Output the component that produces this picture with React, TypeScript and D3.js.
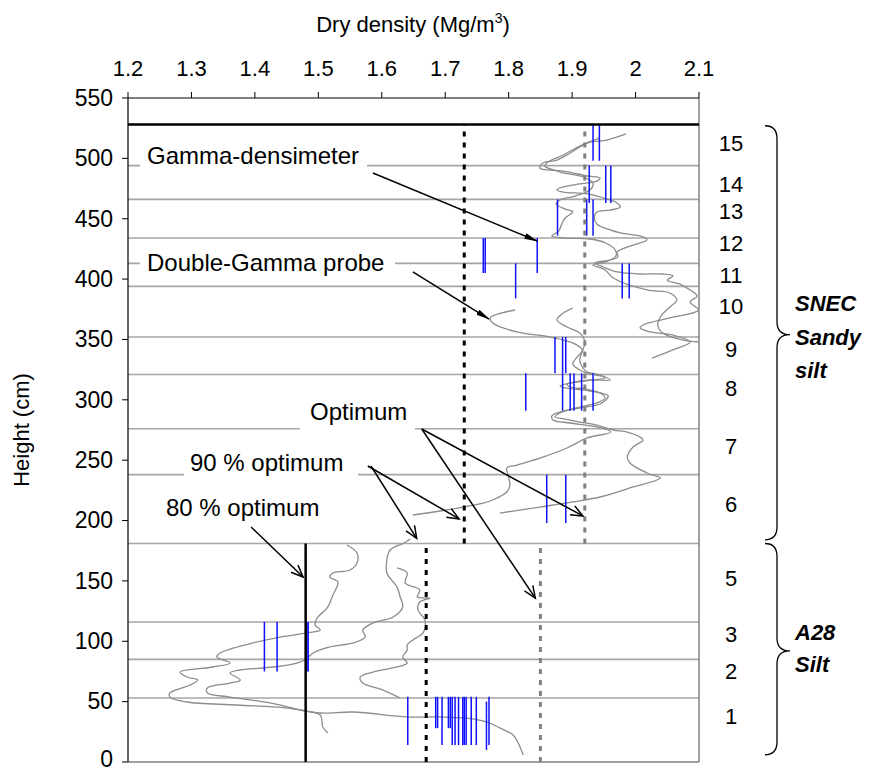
import React from "react";
import * as d3 from "d3";

// ---------- data ----------
const densityTicks = [1.2, 1.3, 1.4, 1.5, 1.6, 1.7, 1.8, 1.9, 2, 2.1];
const heightTicks = [0, 50, 100, 150, 200, 250, 300, 350, 400, 450, 500, 550];
const layerBoundaries = [53, 85, 116, 181, 238, 276, 321, 352, 394, 413, 434, 466, 494];
const surfaceHeight = 528;
const layerNames = ["15", "14", "13", "12", "11", "10", "9", "8", "7", "6", "5", "3", "2", "1"];
const layerNameHeights = [513, 479, 456, 430, 403, 378, 342, 310, 262, 214, 152, 106, 75, 38];

// reference density lines: [density, fromHeight, toHeight]
const optimumA28 = [1.85, 0, 181];
const optimumSNEC = [1.92, 181, 528];
const ninetyA28 = [1.67, 0, 181];
const ninetySNEC = [1.73, 181, 528];
const eightyA28 = [1.48, 0, 181];

// Gamma-densimeter measurements: density, top height, bottom height
const gammaDensity = [
  1.933, 1.943,
  1.927, 1.953, 1.961,
  1.877, 1.923, 1.933,
  1.760, 1.763, 1.845,
  1.811, 1.979, 1.990,
  1.873, 1.885, 1.890,
  1.827, 1.885, 1.897, 1.903, 1.915, 1.933,
  1.860, 1.890,
  1.415, 1.435, 1.482, 1.484,
  1.641, 1.685, 1.688, 1.695, 1.705, 1.708, 1.711, 1.7155, 1.721, 1.7276, 1.730, 1.733, 1.741, 1.749, 1.765, 1.769,
];
const gammaTop = [
  528, 528,
  494, 494, 494,
  466, 466, 466,
  434, 434, 434,
  413, 413, 413,
  352, 352, 352,
  322, 322, 322, 322, 322, 322,
  238, 238,
  116, 116, 116, 116,
  54, 54, 54, 54, 54, 54, 54, 54, 54, 54, 54, 54, 54, 54, 50, 54,
];
const gammaBottom = [
  498, 498,
  463, 463, 463,
  436, 436, 436,
  405, 405, 405,
  384, 384, 384,
  322, 322, 322,
  291, 291, 291, 291, 291, 291,
  198, 198,
  75, 75, 75, 75,
  14, 28, 28, 14, 28, 28, 14, 14, 14, 14, 14, 14, 14, 14, 10, 14,
];

// Double-Gamma probe profiles: [density, height]
const probeSNECLowA: [number, number][] = [
  [1.649, 204.6], [1.692, 207.9], [1.728, 211.2], [1.760, 214.5], [1.775, 217.0], [1.797, 223.6], [1.802, 229.4],
  [1.799, 237.7], [1.797, 243.5], [1.813, 246.0], [1.854, 252.6], [1.892, 260.1], [1.924, 268.4], [1.961, 273.3],
  [1.939, 277.5], [1.897, 280.8], [1.870, 283.3], [1.868, 286.6], [1.881, 289.9], [1.912, 293.2], [1.944, 296.5],
  [1.957, 303.2], [1.928, 307.3], [1.889, 309.8], [1.881, 311.4], [1.897, 313.9], [1.928, 316.4], [1.960, 316.4],
  [1.952, 318.9], [1.928, 321.4], [1.912, 324.7], [1.901, 329.7], [1.908, 335.5], [1.916, 341.3], [1.901, 347.1],
  [1.865, 352.0], [1.813, 356.2], [1.775, 363.6], [1.771, 367.8], [1.810, 374.4],
];
const probeSNECLowB: [number, number][] = [
  [1.786, 206.2], [1.849, 211.2], [1.901, 215.4], [1.944, 219.5], [1.996, 227.8], [2.039, 235.2], [2.018, 239.4],
  [1.991, 247.7], [1.987, 252.6], [1.996, 260.9], [2.012, 266.7], [2.007, 269.2], [1.987, 273.3], [1.965, 275.0],
  [1.939, 279.1], [1.912, 281.6], [1.889, 284.1], [1.873, 285.8], [1.881, 289.1], [1.905, 293.2], [1.939, 297.4],
  [1.952, 301.5], [1.944, 305.6], [1.920, 309.0], [1.897, 310.6], [1.892, 313.1], [1.920, 315.6], [1.952, 318.1],
  [1.944, 320.6], [1.924, 323.0], [1.917, 326.4], [1.912, 333.0], [1.917, 341.3], [1.920, 347.9], [1.912, 355.3],
  [1.892, 360.3], [1.876, 366.1], [1.886, 371.9], [1.901, 376.0],
];
const probeSNECHighA: [number, number][] = [
  [1.985, 520.2], [1.955, 515.2], [1.924, 512.7], [1.897, 504.4], [1.876, 498.6], [1.854, 496.2], [1.849, 492.0],
  [1.860, 490.4], [1.886, 489.5], [1.924, 485.4], [1.944, 483.7], [1.939, 481.2], [1.912, 478.8], [1.886, 476.3],
  [1.876, 473.8], [1.886, 472.1], [1.924, 470.5], [1.955, 466.3], [1.971, 463.0], [1.976, 459.7], [1.960, 457.2],
  [1.939, 455.6], [1.935, 450.6], [1.939, 445.6], [1.960, 440.7], [1.976, 438.2], [2.012, 434.9], [2.018, 432.4],
  [1.996, 428.2], [1.971, 422.4], [1.972, 418.3], [1.960, 415.8], [1.936, 413.3], [1.949, 410.0], [1.971, 405.9],
  [2.007, 404.2], [2.043, 404.2], [2.059, 402.6], [2.050, 399.2], [2.070, 395.9], [2.086, 391.0], [2.097, 386.0],
  [2.086, 381.0], [2.099, 374.4], [2.054, 367.8], [2.012, 362.0], [2.007, 359.5], [2.023, 356.2], [2.059, 353.7],
  [2.086, 347.9], [2.059, 341.3], [2.026, 334.6],
];
const probeSNECHighB: [number, number][] = [
  [1.944, 516.9], [1.912, 510.2], [1.886, 502.8], [1.862, 497.0], [1.857, 493.7], [1.881, 488.7], [1.917, 484.6],
  [1.933, 479.6], [1.928, 473.8], [1.905, 468.8], [1.881, 465.5], [1.875, 462.2], [1.889, 458.0], [1.901, 455.6],
  [1.889, 450.6], [1.883, 444.8], [1.879, 439.8], [1.868, 435.7], [1.889, 434.0], [1.928, 433.2], [1.953, 429.9],
  [1.968, 424.1], [1.969, 419.1], [1.953, 414.2], [1.933, 411.7], [1.952, 407.5], [1.965, 400.9], [2.018, 391.0],
  [2.054, 388.5], [2.065, 382.7], [2.054, 376.9], [2.039, 368.6], [2.035, 362.0], [2.043, 355.3], [2.075, 349.5],
  [2.099, 347.9],
];
const probeA28A: [number, number][] = [
  [1.545, 179.7], [1.561, 173.1], [1.561, 164.8], [1.550, 159.0], [1.523, 156.5], [1.518, 153.2], [1.531, 149.1],
  [1.523, 138.3], [1.514, 127.6], [1.498, 119.3], [1.495, 113.5], [1.503, 109.3], [1.482, 106.9], [1.440, 103.5],
  [1.397, 98.6], [1.345, 90.3], [1.340, 87.0], [1.361, 82.0], [1.334, 78.7], [1.282, 74.5], [1.293, 70.4],
  [1.310, 67.9], [1.298, 63.8], [1.266, 57.2], [1.266, 53.8], [1.293, 49.7], [1.372, 47.2], [1.451, 44.7],
  [1.503, 40.6], [1.555, 41.4], [1.640, 37.3], [1.687, 37.3], [1.734, 36.4], [1.766, 33.1], [1.786, 28.2],
  [1.807, 22.4], [1.815, 15.7], [1.823, 5.8],
];
const probeA28B: [number, number][] = [
  [1.645, 184.7], [1.635, 181.4], [1.613, 175.6], [1.608, 167.3], [1.608, 156.5], [1.624, 145.0], [1.629, 136.7],
  [1.633, 128.4], [1.618, 120.1], [1.586, 115.1], [1.570, 109.3], [1.574, 103.5], [1.555, 98.6], [1.518, 95.3],
  [1.492, 90.3], [1.479, 84.5], [1.466, 82.0], [1.429, 78.7], [1.377, 76.2], [1.361, 73.7], [1.377, 67.9],
  [1.361, 65.4], [1.325, 61.3], [1.325, 57.2], [1.361, 53.8], [1.424, 48.9], [1.471, 43.1], [1.503, 38.9],
  [1.507, 29.0], [1.515, 24.0],
];
const probeA28C: [number, number][] = [
  [1.624, 160.7], [1.640, 156.5], [1.637, 148.3], [1.660, 142.5], [1.656, 136.7], [1.676, 135.8], [1.660, 132.5],
  [1.657, 125.9], [1.668, 117.6], [1.665, 106.9], [1.649, 101.1], [1.640, 96.9], [1.640, 92.8], [1.633, 87.0],
  [1.640, 82.0], [1.624, 78.7], [1.586, 74.5], [1.566, 70.4], [1.570, 65.4], [1.602, 59.6], [1.629, 53.0],
];
const probeProfiles = [probeSNECLowA, probeSNECLowB, probeSNECHighA, probeSNECHighB, probeA28A, probeA28B, probeA28C];

// annotation arrows (data coordinates: [density, height])
const arrowFrom: [number, number][] = [
  [1.586, 487.9], [1.649, 405.9], [1.663, 275.8], [1.663, 275.8], [1.578, 245.2], [1.583, 245.2], [1.394, 194.7],
];
const arrowTo: [number, number][] = [
  [1.845, 431.5], [1.769, 366.9], [1.917, 203.8], [1.842, 135.8], [1.722, 201.3], [1.655, 185.3], [1.476, 153.2],
];
const arrowFilled = [true, true, false, false, false, false, false];

const annotationTexts = ["Gamma-densimeter", "Double-Gamma probe", "Optimum", "90 % optimum", "80 % optimum"];

const FONT = "'Liberation Sans', Arial, Helvetica, sans-serif";

export default function App() {
  const x = d3.scaleLinear().domain([1.2, 2.1]).range([128, 699]);
  const y = d3.scaleLinear().domain([0, 550]).range([762, 98]);
  const line = d3
    .line<[number, number]>()
    .x((d) => x(d[0]))
    .y((d) => y(d[1]))
    .curve(d3.curveCatmullRom.alpha(0.5));

  const x0 = x.range()[0];
  const x1 = x.range()[1];
  const yTop = y(550);
  const yBot = y(0);

  const refLine = (r: number[], color: string, dash: string | undefined, w: number, key: string) => (
    <line key={key} x1={x(r[0])} x2={x(r[0])} y1={y(r[1])} y2={y(r[2])} stroke={color} strokeWidth={w} strokeDasharray={dash} />
  );

  // annotation layout (pixel positions of label text + white background)
  const annLayout = [
    { tx: 147, ty: 164, bx: 140, by: 141, bw: 227, bh: 30 },
    { tx: 147, ty: 271, bx: 140, by: 248, bw: 255, bh: 30 },
    { tx: 310, ty: 420, bx: 300, by: 398, bw: 115, bh: 33 },
    { tx: 190, ty: 471, bx: 184, by: 449, bw: 174, bh: 30 },
    { tx: 166, ty: 516, bx: 160, by: 494, bw: 168, bh: 28 },
  ];

  const braceX0 = 765;
  const braceX1 = 777;
  const braceTip = 790;
  const brace = (top: number, mid: number, bot: number) => {
    const r = 13;
    return `M${braceX0},${top} Q${braceX1},${top} ${braceX1},${top + r} L${braceX1},${mid - r} Q${braceX1},${mid} ${braceTip},${mid} Q${braceX1},${mid} ${braceX1},${mid + r} L${braceX1},${bot - r} Q${braceX1},${bot} ${braceX0},${bot}`;
  };

  return (
    <svg
      width={874}
      height={771}
      style={{ position: "absolute", left: 0, top: 0, background: "#fff" }}
      fontFamily={FONT}
    >
      <defs>
        <marker id="headFilled" viewBox="0 0 14 8" refX={13} refY={4} markerWidth={14} markerHeight={8} markerUnits="userSpaceOnUse" orient="auto">
          <path d="M0,1 L14,4 L0,7 Z" fill="#000" />
        </marker>
        <marker id="headOpen" viewBox="-1 -1 15 12" refX={12} refY={5} markerWidth={15} markerHeight={12} markerUnits="userSpaceOnUse" orient="auto">
          <path d="M0,0 L12,5 L0,10" fill="none" stroke="#000" strokeWidth={1.5} />
        </marker>
      </defs>

      {/* layer boundaries */}
      {layerBoundaries.map((h) => (
        <line key={"lb" + h} x1={x0} x2={x1} y1={y(h)} y2={y(h)} stroke="#a6a6a6" strokeWidth={1.6} />
      ))}
      <line x1={x0} x2={x1} y1={yBot} y2={yBot} stroke="#808080" strokeWidth={1.5} />
      <line x1={x1} x2={x1} y1={yTop} y2={yBot} stroke="#808080" strokeWidth={1.5} />

      {/* probe profiles */}
      {probeProfiles.map((p, i) => (
        <path key={"pp" + i} d={line(p) || ""} fill="none" stroke="#8c8c8c" strokeWidth={1.3} />
      ))}

      {/* gamma-densimeter */}
      {gammaDensity.map((d, i) => (
        <line key={"g" + i} x1={x(d)} x2={x(d)} y1={y(gammaTop[i])} y2={y(gammaBottom[i])} stroke="#1010ff" strokeWidth={1.5} />
      ))}

      {/* reference lines */}
      {refLine(eightyA28, "#000", undefined, 2.5, "e80")}
      {refLine(ninetyA28, "#000", "5 6", 3, "n1")}
      {refLine(ninetySNEC, "#000", "5 6", 3, "n2")}
      {refLine(optimumA28, "#808080", "5 6", 3, "o1")}
      {refLine(optimumSNEC, "#808080", "5 6", 3, "o2")}

      {/* surface */}
      <line x1={x0} x2={x1} y1={y(surfaceHeight)} y2={y(surfaceHeight)} stroke="#000" strokeWidth={2.5} />

      {/* axes */}
      <line x1={x0} x2={x1} y1={yTop} y2={yTop} stroke="#000" strokeWidth={1.2} />
      <line x1={x0} x2={x0} y1={yTop} y2={yBot} stroke="#000" strokeWidth={1.2} />
      {densityTicks.map((t) => (
        <g key={"xt" + t}>
          <line x1={x(t)} x2={x(t)} y1={yTop} y2={yTop - 6} stroke="#000" strokeWidth={1} />
          <text x={x(t)} y={76} fontSize={22} textAnchor="middle" fill="#000">
            {d3.format("")(t)}
          </text>
        </g>
      ))}
      {heightTicks.map((t) => (
        <g key={"yt" + t}>
          <line x1={x0} x2={x0 - 6} y1={y(t)} y2={y(t)} stroke="#000" strokeWidth={1} />
          <text x={113} y={Math.min(y(t), 759)} dy="0.34em" fontSize={23} textAnchor="end" fill="#000">
            {t}
          </text>
        </g>
      ))}
      <text x={413} y={32} fontSize={22} textAnchor="middle" fill="#000">
        Dry density (Mg/m<tspan fontSize={14} dy={-9}>3</tspan>
        <tspan dy={9}>)</tspan>
      </text>
      <text transform={`translate(29,${430}) rotate(-90)`} fontSize={22} textAnchor="middle" fill="#000">
        Height (cm)
      </text>

      {/* annotation boxes + text */}
      {annotationTexts.map((t, i) => {
        const a = annLayout[i];
        return (
          <g key={"an" + i}>
            <rect x={a.bx} y={a.by} width={a.bw} height={a.bh} fill="#fff" />
            <text x={a.tx} y={a.ty} fontSize={24} fill="#000">
              {t}
            </text>
          </g>
        );
      })}

      {/* arrows */}
      {arrowFrom.map((f, i) => (
        <line
          key={"ar" + i}
          x1={x(f[0])}
          y1={y(f[1])}
          x2={x(arrowTo[i][0])}
          y2={y(arrowTo[i][1])}
          stroke="#000"
          strokeWidth={1.5}
          markerEnd={arrowFilled[i] ? "url(#headFilled)" : "url(#headOpen)"}
        />
      ))}

      {/* layer names */}
      {layerNames.map((n, i) => (
        <text key={"ln" + n} x={731} y={y(layerNameHeights[i])} dy="0.36em" fontSize={22} textAnchor="middle" fill="#000">
          {n}
        </text>
      ))}

      {/* braces */}
      <path d={brace(y(527), y(354), y(184))} fill="none" stroke="#000" strokeWidth={1.3} />
      <path d={brace(y(181), y(92), y(6))} fill="none" stroke="#000" strokeWidth={1.3} />

      <g fontSize={22} fontWeight="bold" fontStyle="italic" fill="#000">
        <text x={795} y={311}>SNEC</text>
        <text x={795} y={345}>Sandy</text>
        <text x={795} y={378}>silt</text>
        <text x={795} y={640}>A28</text>
        <text x={795} y={672}>Silt</text>
      </g>
    </svg>
  );
}
